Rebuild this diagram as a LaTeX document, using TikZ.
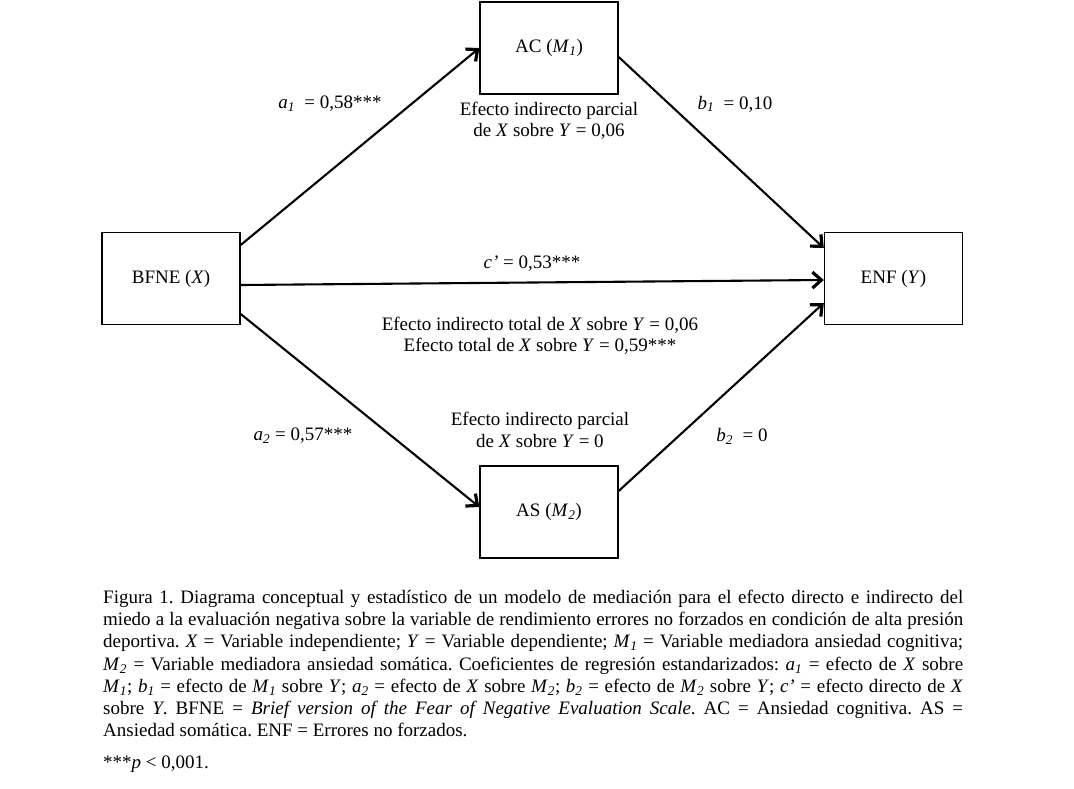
\documentclass[tikz,border=0pt]{standalone}
\usepackage{fontspec}
\setmainfont{Liberation Serif}
\usetikzlibrary{arrows.meta,calc}
\frenchspacing
\newcommand\sbs[1]{\textsubscript{\textit{#1}}}
\newcommand\jl[1]{\makebox[860pt][s]{#1}}
\begin{document}
\begin{tikzpicture}[x=1pt,y=-1pt,
  box/.style={draw,line width=1.4pt,minimum width=138pt,minimum height=92pt,inner sep=0pt,font=\fontsize{19}{22}\selectfont},
  conn/.style={line width=2.1pt,-{Straight Barb[length=9pt,width=16pt,line width=3.2pt]}},
  lbl/.style={font=\fontsize{19}{21.5}\selectfont,align=center,inner sep=0pt},
  captext/.style={font=\fontsize{19}{22.2}\selectfont,align=left,inner sep=0pt}]
\useasboundingbox[fill=white] (0,0) rectangle (1074,789);
\node[box] (ac) at (549,48) {AC (\textit{M}\sbs{1})};
\node[box] (bfne) at (171,278.5) {BFNE (\textit{X})};
\node[box] (enf) at (893.5,278.5) {ENF (\textit{Y})};
\node[box] (as) at (549,512) {AS (\textit{M}\sbs{2})};
\draw[conn] ([yshift=33.5pt]bfne.east) -- (ac.west);
\draw[conn] ([yshift=-9pt]ac.east) -- ([yshift=30.5pt]enf.west);
\draw[conn] ([yshift=-6.5pt]bfne.east) -- ([yshift=-1.5pt]enf.west);
\draw[conn] ([yshift=-35.5pt]bfne.east) -- ([yshift=5pt]as.west);
\draw[conn] ([yshift=21pt]as.east) -- ([yshift=-24.5pt]enf.west);
\node[lbl] (la1) at (330,104) {\textit{a}\sbs{1}\ \ = 0,58***};
\node[lbl] (lb1) at (735,104) {\textit{b}\sbs{1}\ \ = 0,10};
\node[lbl] (lp1) at (549,121) {Efecto indirecto parcial\\de \textit{X} sobre \textit{Y} = 0,06};
\node[lbl] (lc) at (532,264) {\textit{c’} = 0,53***};
\node[lbl] (ltot) at (540,336) {Efecto indirecto total de \textit{X} sobre \textit{Y} = 0,06\\Efecto total de \textit{X} sobre \textit{Y} = 0,59***};
\node[lbl] (lp2) at (540,430) {Efecto indirecto parcial\\de \textit{X} sobre \textit{Y} = 0};
\node[lbl] (la2) at (303,436) {\textit{a}\sbs{2} = 0,57***};
\node[lbl] (lb2) at (742,436) {\textit{b}\sbs{2}\ \ = 0};
\node[captext,anchor=north west] (caption) at (103,590) {%
\jl{Figura 1. Diagrama conceptual y estadístico de un modelo de mediación para el efecto directo e indirecto del}\\
\jl{miedo a la evaluación negativa sobre la variable de rendimiento errores no forzados en condición de alta presión}\\
\jl{deportiva. \textit{X} = Variable independiente; \textit{Y} = Variable dependiente; \textit{M}\sbs{1} = Variable mediadora ansiedad cognitiva;}\\
\jl{\textit{M}\sbs{2} = Variable mediadora ansiedad somática. Coeficientes de regresión estandarizados: \textit{a}\sbs{1} = efecto de \textit{X} sobre}\\
\jl{\textit{M}\sbs{1}; \textit{b}\sbs{1} = efecto de \textit{M}\sbs{1} sobre \textit{Y}; \textit{a}\sbs{2} = efecto de \textit{X} sobre \textit{M}\sbs{2}; \textit{b}\sbs{2} = efecto de \textit{M}\sbs{2} sobre \textit{Y}; \textit{c’} = efecto directo de \textit{X}}\\
\jl{sobre \textit{Y}. BFNE = \textit{Brief version of the Fear of Negative Evaluation Scale}. AC = Ansiedad cognitiva. AS =}\\
Ansiedad somática. ENF = Errores no forzados.};
\node[captext,anchor=base west] (pnote) at (103,768) {***\textit{p} < 0,001.};
\end{tikzpicture}
\end{document}
